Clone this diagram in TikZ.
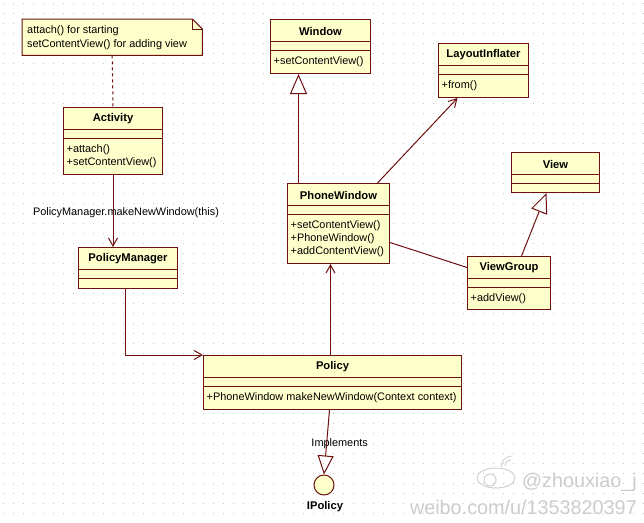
\documentclass[tikz,border=0pt]{standalone}
\usepackage{fontspec}
\setmainfont{Liberation Sans}
\usepackage{tikz}
\usetikzlibrary{arrows.meta}

\definecolor{umlline}{RGB}{110,16,16}
\definecolor{umlfill}{RGB}{255,255,204}

% class box: id, x, y, width, height, name, operations
\newcommand{\umlclass}[7]{%
  \node[classbox,minimum width=#4pt,minimum height=#5pt] (#1) at (#2,#3) {};
  \node[classname] at ([yshift=-12pt]#1.north) {#6};
  \draw[classline] ([yshift=-22pt]#1.north west) -- ([yshift=-22pt]#1.north east);
  \draw[classline] ([yshift=-31pt]#1.north west) -- ([yshift=-31pt]#1.north east);
  \node[classops] at ([yshift=-31pt]#1.north west) {#7};
}

\begin{document}
\begin{tikzpicture}[x=1pt,y=-1pt,font=\fontsize{10.9}{12.8}\selectfont,
    classbox/.style={draw=umlline,fill=umlfill,line width=1pt,anchor=north west,inner sep=0pt},
    classname/.style={font=\fontsize{11.2}{13}\selectfont\bfseries,inner sep=0pt},
    classops/.style={anchor=north west,align=left,inner xsep=3.5pt,inner ysep=6.5pt},
    classline/.style={draw=umlline,line width=1pt},
    link/.style={umlline,line width=1pt},
    linklabel/.style={text=black,inner sep=0pt},
    uses/.style={link,-{Straight Barb[length=8pt,width=9pt]}},
    extends/.style={link,-{Triangle[open,length=20pt,width=17pt]}},
    watermark/.style={text=gray!40,font=\fontsize{19.8}{22}\selectfont,inner sep=0pt,anchor=east}]

    \useasboundingbox (0,0) rectangle (644,522);
    \fill[white] (0,0) rectangle (644,522);
    % dotted grid
    \foreach \gy in {3,13,...,523}
        \draw[gray!45,line width=1pt,dash pattern=on 1pt off 9pt] (2.5,\gy) -- (644,\gy);

    % note
    \node[minimum width=180pt,minimum height=36pt,anchor=north west,inner sep=0pt] (note) at (22,19) {};
    \filldraw[classline,fill=umlfill] (note.north west) -- ([xshift=-10pt]note.north east)
        -- ([yshift=-10pt]note.north east) -- (note.south east) -- (note.south west) -- cycle;
    \draw[classline] ([xshift=-10pt]note.north east) |- ([yshift=-10pt]note.north east);
    \node[anchor=north west,align=left,inner sep=0pt,font=\fontsize{10.9}{14}\selectfont]
        at ([xshift=5pt,yshift=-6pt]note.north west) {attach() for starting\\setContentView() for adding view};

    % classes
    \umlclass{activity}{63}{107}{99}{67}{Activity}{+attach()\\+setContentView()}
    \umlclass{policymgr}{78}{247}{99}{41}{PolicyManager}{}
    \umlclass{window}{270}{19}{100}{54}{Window}{+setContentView()}
    \umlclass{inflater}{438}{43}{90}{54}{LayoutInflater}{+from()}
    \umlclass{view}{511}{152}{88}{40}{View}{}
    \umlclass{phonewin}{287}{183}{102}{80}{PhoneWindow}{+setContentView()\\+PhoneWindow()\\+addContentView()}
    \umlclass{viewgroup}{467}{256}{83}{53}{ViewGroup}{+addView()}
    \umlclass{policy}{203}{355}{258}{54}{Policy}{+PhoneWindow makeNewWindow(Context context)}

    % interface
    \node[classbox,circle,anchor=center,minimum size=20pt] (ipolicy) at (324,485) {};
    \node[classname] (ipolicyname) at (325,507) {IPolicy};

    % connectors
    \draw[link,dash pattern=on 3pt off 3pt] (note.south) -- (activity.north);
    \draw[uses] (activity.south) -- (activity.south |- policymgr.north)
        node[pos=0.52,xshift=13pt,linklabel] {PolicyManager.makeNewWindow(this)};
    \draw[uses] ([xshift=-3pt]policymgr.south) |- (policy.north west);
    \draw[uses] ([xshift=-2pt]policy.north) -- ([xshift=-2pt]policy.north |- phonewin.south);
    \draw[extends] ([xshift=-40pt]phonewin.north) -- ([xshift=-40pt]phonewin.north |- window.south);
    \draw[uses] ([xshift=39pt]phonewin.north) -- ([xshift=-26pt]inflater.south);
    \draw[extends] ([xshift=12.5pt]viewgroup.north) -- ([xshift=-9pt]view.south);
    \draw[link] ([yshift=-19pt]phonewin.east) -- ([yshift=15.5pt]viewgroup.west);
    \draw[link,-{Triangle[open,length=19pt,width=16pt]}] ([xshift=-3pt]policy.south) -- (ipolicy.north)
        node[pos=0.52,xshift=13pt,linklabel] {Implements};

    % watermark
    \draw[gray!35,line width=1pt] (496,478) ellipse (19pt and 10pt);
    \draw[gray!35,line width=1pt] (490,480) circle (6pt);
    \draw[gray!35,line width=1pt] (505,466) arc (180:90:6pt) (501,467) arc (180:90:11pt);
    \node[watermark] (wmuser) at (637,482) {@zhouxiao\_j};
    \node[watermark] (wmurl) at (637,507) {weibo.com/u/1353820397};
\end{tikzpicture}
\end{document}
